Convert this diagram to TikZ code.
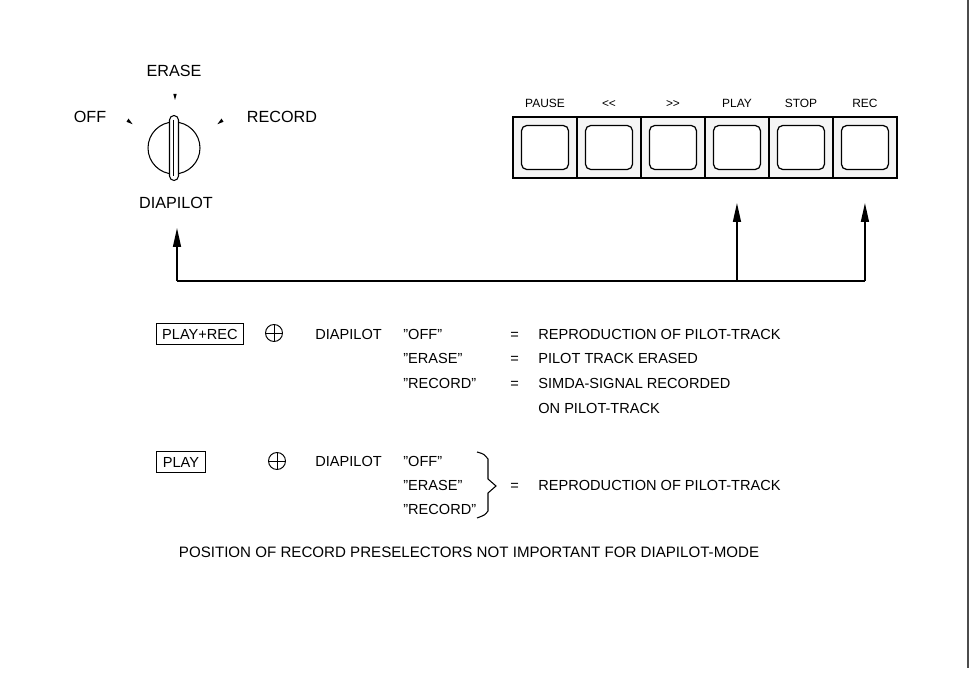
\documentclass[tikz,border=0pt]{standalone}
\usepackage{fontspec}
\setmainfont{Liberation Sans}
\usetikzlibrary{arrows.meta,positioning,calc}

\begin{document}
\begin{tikzpicture}[
  x=0.02cm, y=-0.02cm,
  lbl/.style={font=\fontsize{9.2}{11}\selectfont, inner sep=0pt},
  keylabel/.style={font=\fontsize{6.8}{8}\selectfont, inner sep=0pt, text height=5pt, text depth=0pt},
  cell/.style={draw, line width=0.8pt, fill=black!4, minimum width=1.28cm, minimum height=1.22cm, outer sep=0pt},
  key/.style={draw, line width=0.7pt, rounded corners=3pt, fill=white, minimum width=0.94cm, minimum height=0.88cm},
  txt/.style={font=\fontsize{8.3}{10}\selectfont, inner sep=0pt, anchor=base west},
  tag/.style={draw, line width=0.6pt, font=\fontsize{8.3}{10}\selectfont, inner xsep=3.5pt, inner ysep=3pt, text height=6pt, text depth=0pt},
  plus/.style={draw, circle, line width=0.55pt, minimum size=0.34cm, inner sep=0pt},
  arrow/.style={-{Triangle[length=0.38cm,width=0.16cm]}, line width=0.8pt}
]
\useasboundingbox (0,0) rectangle (970,692);
\draw[black!70, line width=0.6pt] (968,0) -- (968,668);

% selector knob
\node[draw, circle, minimum size=1.04cm, line width=0.6pt] (knob) at (174,148) {};
\node[draw, rounded corners=0.09cm, fill=white, minimum width=0.18cm, minimum height=1.3cm, line width=0.6pt, inner sep=0pt] (bar) at (knob) {};
\draw[line width=0.4pt] ([xshift=-0.02cm,yshift=-0.1cm]bar.north) -- ([xshift=-0.02cm,yshift=0.1cm]bar.south);

\node[lbl] (erase) at (174,71) {ERASE};
\node[lbl] (off) at (90,117) {OFF};
\node[lbl] (record) at (282,117) {RECORD};
\node[lbl] (diapilot) at (176,203) {DIAPILOT};
\fill (173.3,94) -- (176.7,94) -- (175,100) -- cycle;
\fill (126.5,121.8) -- (128.5,118.6) -- (132.6,124.2) -- cycle;
\fill (223.5,121.8) -- (221.5,118.6) -- (217.4,124.2) -- cycle;

% key panel
\node[cell] (pause) at (545,147.5) {};
\node[cell, right=0pt of pause] (rew) {};
\node[cell, right=0pt of rew] (ffw) {};
\node[cell, right=0pt of ffw] (play) {};
\node[cell, right=0pt of play] (stop) {};
\node[cell, right=0pt of stop] (rec) {};
\foreach \k in {pause,rew,ffw,play,stop,rec}
  \node[key] at (\k) {};
\node[keylabel, above=0.19cm of pause] {PAUSE};
\node[keylabel, above=0.19cm of rew] {{<}{<}};
\node[keylabel, above=0.19cm of ffw] {{>}{>}};
\node[keylabel, above=0.19cm of play] {PLAY};
\node[keylabel, above=0.19cm of stop] {STOP};
\node[keylabel, above=0.19cm of rec] {REC};

% connections
\coordinate (busL) at (177,281);
\coordinate (diapin) at (177,228);
\draw[line width=0.8pt] (busL) -- (busL -| rec);
\draw[arrow] (busL) -- (diapin);
\draw[arrow] (busL -| play) -- ([yshift=-0.5cm]play.south);
\draw[arrow] (busL -| rec) -- ([yshift=-0.5cm]rec.south);

% PLAY+REC
\node[tag] (playrec) at (200,334) {PLAY+REC};
\node[plus] (plus1) at (274,333) {};
\draw[line width=0.55pt] (plus1.north) -- (plus1.south) (plus1.west) -- (plus1.east);
\node[txt] (dia1) at (315,339) {DIAPILOT};
\node[txt] (q1) at (403,339) {''OFF''};
\node[txt] (q2) at (403,364) {''ERASE''};
\node[txt] (q3) at (403,389) {''RECORD''};
\node[txt] (e1) at (510,339) {=};
\node[txt] (e2) at (510,364) {=};
\node[txt] (e3) at (510,389) {=};
\node[txt] (r1) at (538,339) {REPRODUCTION OF PILOT-TRACK};
\node[txt] (r2) at (538,364) {PILOT TRACK ERASED};
\node[txt] (r3) at (538,389) {SIMDA-SIGNAL RECORDED};
\node[txt] (r4) at (538,414) {ON PILOT-TRACK};

% PLAY
\node[tag] (playonly) at (181,462) {PLAY};
\node[plus] (plus2) at (277,461) {};
\draw[line width=0.55pt] (plus2.north) -- (plus2.south) (plus2.west) -- (plus2.east);
\node[txt] (dia2) at (315,466) {DIAPILOT};
\node[txt] (p1) at (403,466) {''OFF''};
\node[txt] (p2) at (403,490) {''ERASE''};
\node[txt] (p3) at (403,514) {''RECORD''};
\draw[line width=0.6pt] (477,452) .. controls (484,454) .. (488,459) -- (488,479) -- (496,486) -- (488,493) -- (488,511) .. controls (485,515) .. (477,518);
\node[txt] (e4) at (510,490) {=};
\node[txt] (r5) at (538,490) {REPRODUCTION OF PILOT-TRACK};

\node[font=\fontsize{8.6}{10}\selectfont, inner sep=0pt] (note) at (469,552) {POSITION OF RECORD PRESELECTORS NOT IMPORTANT FOR DIAPILOT-MODE};
\end{tikzpicture}
\end{document}
